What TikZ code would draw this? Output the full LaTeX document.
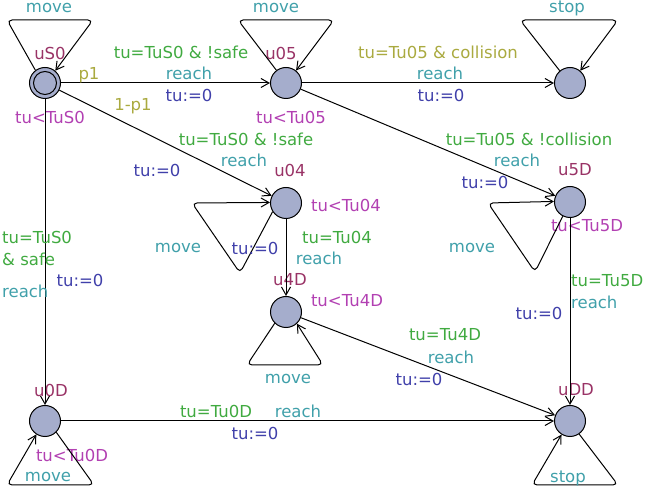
\documentclass[tikz,border=0pt]{standalone}
\usepackage{fontspec}
\setmainfont{DejaVu Sans}
\usetikzlibrary{arrows.meta}

\definecolor{locfill}{RGB}{165,173,204}
\definecolor{locname}{RGB}{153,51,102}
\definecolor{invcol}{RGB}{178,64,178}
\definecolor{guardcol}{RGB}{64,170,64}
\definecolor{synccol}{RGB}{64,160,170}
\definecolor{updcol}{RGB}{64,64,170}
\definecolor{probcol}{RGB}{170,170,64}

\begin{document}
\begin{tikzpicture}[x=1pt,y=1pt]
		\tikzstyle{every node}+=[inner sep=0pt,font=\fontsize{16.5}{19}\selectfont]
		\tikzstyle{loc}=[draw,circle,fill=locfill,minimum size=31pt,line width=1pt]
		\tikzstyle{trans}=[line width=1pt,-{Straight Barb[length=8pt,width=9pt]}]
		\tikzstyle{selfloop}=[trans,rounded corners=5pt]
		\tikzstyle{lname}=[text=locname]
		\tikzstyle{inv}=[text=invcol]
		\tikzstyle{guard}=[text=guardcol]
		\tikzstyle{sync}=[text=synccol]
		\tikzstyle{upd}=[text=updcol]
		\tikzstyle{prob}=[text=probcol]
		\useasboundingbox (0,0) rectangle (649,-494);
		% locations
		\node [loc] (uS0) at (45,-83) {};
		\node [draw,circle,minimum size=23pt,line width=1pt] (uS0in) at (uS0) {};
		\node [loc] (u05) at (286,-83) {};
		\node [loc] (coll) at (570,-83) {};
		\node [loc] (u04) at (286,-203) {};
		\node [loc] (u5D) at (570,-202) {};
		\node [loc] (u4D) at (286,-312) {};
		\node [loc] (u0D) at (45,-421) {};
		\node [loc] (uDD) at (570,-421) {};
		\node [lname] (nS0) at (50,-53) {uS0};
		\node [lname] (n05) at (281,-53) {u05};
		\node [lname] (n04) at (290,-170) {u04};
		\node [lname] (n5D) at (575,-170) {u5D};
		\node [lname] (n4D) at (290,-280) {u4D};
		\node [lname] (n0D) at (51,-390) {u0D};
		\node [lname] (nDD) at (576,-390) {uDD};
		\node [inv] (iS0) at (50,-117) {tu<TuS0};
		\node [inv] (i05) at (291,-117) {tu<Tu05};
		\node [inv] (i04) at (346,-205) {tu<Tu04};
		\node [inv] (i5D) at (587,-226) {tu<Tu5D};
		\node [inv] (i4D) at (347,-301) {tu<Tu4D};
		\node [inv] (i0D) at (72,-455) {tu<Tu0D};
		% self loops
		\draw [selfloop] (uS0.127) -- ([shift={(-38,63)}]uS0.center) -- ([shift={(48,63)}]uS0.center) -- (uS0.50);
		\node [sync] (sS0) at (49,-8) {move};
		\draw [selfloop] (u05.127) -- ([shift={(-48,63)}]u05.center) -- ([shift={(48,63)}]u05.center) -- (u05.51);
		\node [sync] (s05) at (276,-8) {move};
		\draw [selfloop] (coll.130) -- ([shift={(-50,63)}]coll.center) -- ([shift={(48,63)}]coll.center) -- (coll.50);
		\node [sync] (sC) at (567,-8) {stop};
		\draw [selfloop] (u04.213) -- ([shift={(-46,-70)}]u04.center) -- ([shift={(-94,0)}]u04.center) -- (u04.178);
		\node [sync] (s04) at (178,-248) {move};
		\node [upd] (a04) at (255,-248) {tu:=0};
		\draw [selfloop] (u5D.243) -- ([shift={(-35,-70)}]u5D.center) -- ([shift={(-82,-1)}]u5D.center) -- (u5D.178);
		\node [sync] (s5D) at (472,-248) {move};
		\draw [selfloop] (u4D.225) -- ([shift={(-39,-53)}]u4D.center) -- ([shift={(37,-53)}]u4D.center) -- (u4D.313);
		\node [sync] (s4D) at (288,-379) {move};
		\draw [selfloop] (u0D.315) -- ([shift={(49,-64)}]u0D.center) -- ([shift={(-38,-64)}]u0D.center) -- (u0D.237);
		\node [sync] (s0D) at (48,-477) {move};
		\draw [selfloop] (uDD.305) -- ([shift={(48,-64)}]uDD.center) -- ([shift={(-38,-64)}]uDD.center) -- (uDD.238);
		\node [sync] (sDD) at (568,-478) {stop};
		% uS0 -> u05
		\draw [trans] (uS0) -- (u05);
		\node [prob] (p1) at (89,-75) {p1};
		\node [guard] (g1) at (181,-52) {tu=TuS0 \& !safe};
		\node [sync] (s1) at (189,-73) {reach};
		\node [upd] (a1) at (189,-95) {tu:=0};
		% uS0 -> u04
		\draw [trans] (uS0) -- (u04);
		\node [prob] (p2) at (133,-106) {1-p1};
		\node [guard] (g2) at (246,-139) {tu=TuS0 \& !safe};
		\node [sync] (s2) at (244,-160) {reach};
		\node [upd] (a2) at (157,-170) {tu:=0};
		% uS0 -> u0D
		\draw [trans] (uS0) -- (u0D);
		\node [guard,anchor=west] (g3) at (2,-237) {tu=TuS0};
		\node [guard,anchor=west] (g3b) at (2,-259) {\& safe};
		\node [sync,anchor=west] (s3) at (2,-291) {reach};
		\node [upd] (a3) at (80,-280) {tu:=0};
		% u05 -> coll
		\draw [trans] (u05) -- (coll);
		\node [prob] (g4) at (438,-52) {tu=Tu05 \& collision};
		\node [sync] (s4) at (440,-73) {reach};
		\node [upd] (a4) at (441,-95) {tu:=0};
		% u05 -> u5D
		\draw [trans] (u05) -- (u5D);
		\node [guard] (g5) at (529,-139) {tu=Tu05 \& !collision};
		\node [sync] (s5) at (517,-160) {reach};
		\node [upd] (a5) at (485,-182) {tu:=0};
		% u04 -> u4D
		\draw [trans] (u04) -- (u4D);
		\node [guard] (g6) at (337,-237) {tu=Tu04};
		\node [sync] (s6) at (319,-258) {reach};
		% u5D -> uDD
		\draw [trans] (u5D) -- (uDD);
		\node [guard,anchor=west] (g7) at (571,-281) {tu=Tu5D};
		\node [sync,anchor=west] (s7) at (571,-302) {reach};
		\node [upd] (a7) at (539,-313) {tu:=0};
		% u4D -> uDD
		\draw [trans] (u4D) -- (uDD);
		\node [guard] (g8) at (445,-335) {tu=Tu4D};
		\node [sync] (s8) at (451,-357) {reach};
		\node [upd] (a8) at (419,-379) {tu:=0};
		% u0D -> uDD
		\draw [trans] (u0D) -- (uDD);
		\node [guard] (g9) at (216,-411) {tu=Tu0D};
		\node [sync] (s9) at (298,-411) {reach};
		\node [upd] (a9) at (255,-433) {tu:=0};
\end{tikzpicture}
\end{document}
